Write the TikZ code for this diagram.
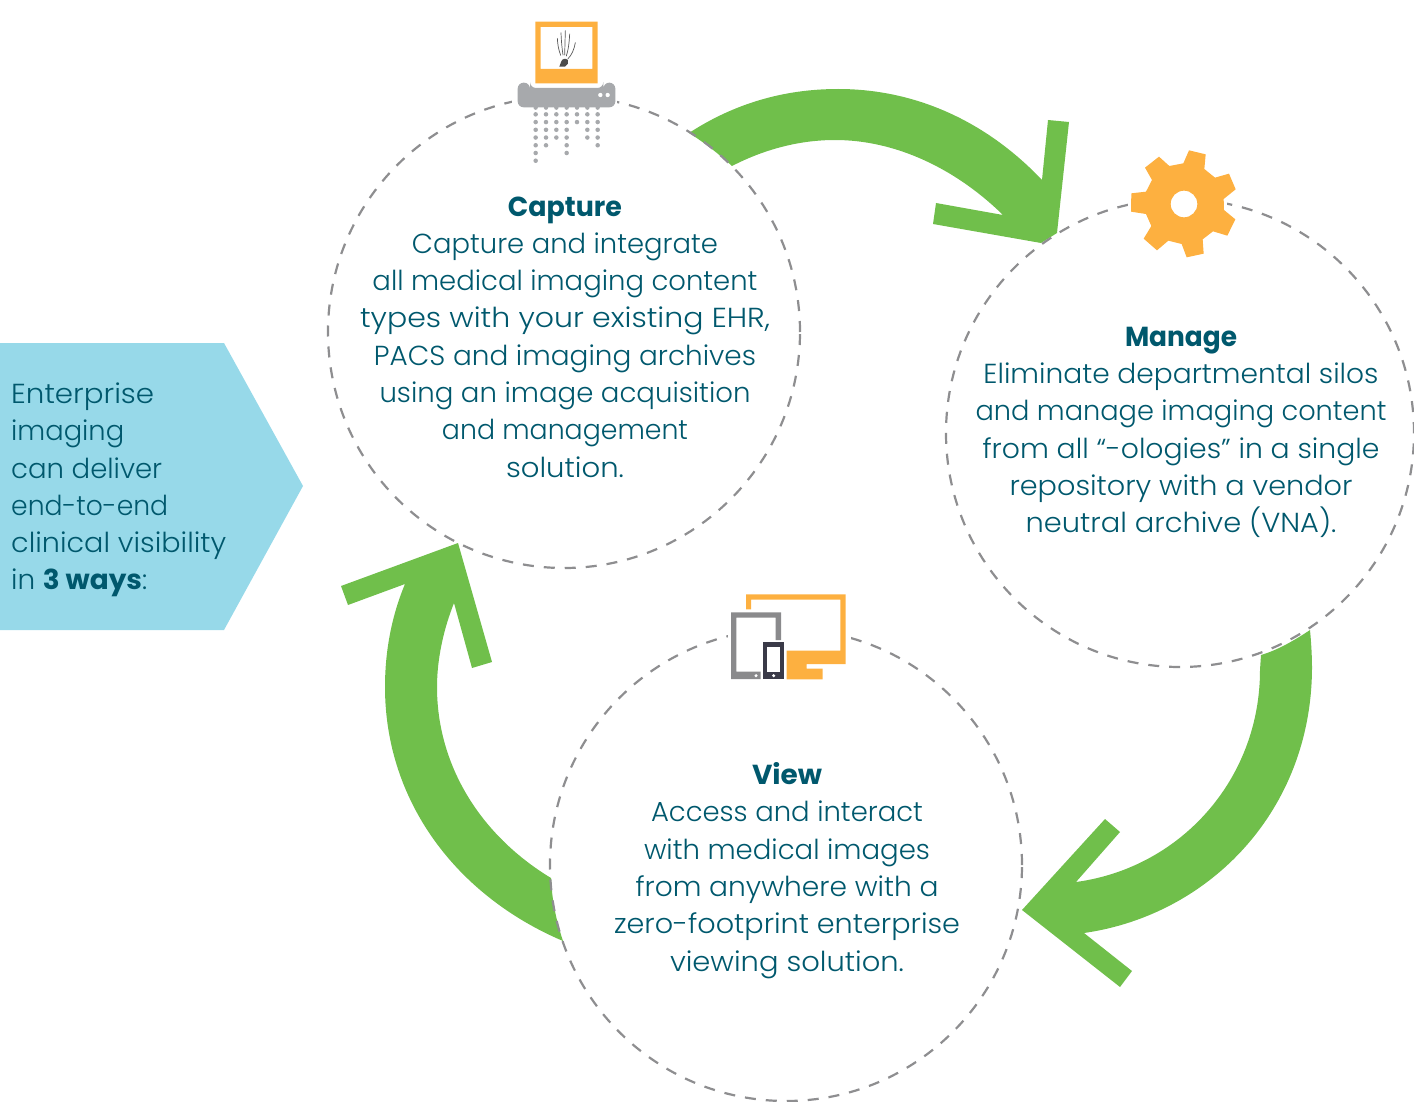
\documentclass[tikz,border=0pt]{standalone}
\usepackage{fontspec}
\usepackage{graphicx}
\setmainfont{Poppins}[UprightFont=* Light,BoldFont=* Bold]
\definecolor{tealtxt}{HTML}{00586D}
\definecolor{skyb}{HTML}{97D9E9}
\definecolor{leaf}{HTML}{70BF4B}
\definecolor{amber}{HTML}{FDB040}
\definecolor{shred}{HTML}{A7A9AC}
\definecolor{tabgray}{HTML}{8A8A8C}
\definecolor{phone}{HTML}{3A3A48}
\definecolor{dashgray}{HTML}{8E8E90}
\newcommand\fitline[2]{\resizebox{#1pt}{\height}{#2}}
\tikzset{
  ring/.style={circle,draw=dashgray,line width=2.2pt,dash pattern=on 11pt off 10pt,minimum size=#1,inner sep=0pt},
  blurb/.style={align=center,text=tealtxt,font=\fontsize{27.5}{37.3}\selectfont,inner sep=0pt},
  sweep/.style={fill=leaf,draw=none},
  bone/.style={draw=black!65,line width=0.7pt,line cap=round}
}
\begin{document}
\begin{tikzpicture}[x=1pt,y=-1pt]
\useasboundingbox (0,0) rectangle (1414,1102);
% banner
\fill[skyb] (0,343) -- (224,343) -- (303,486) -- (224,630) -- (0,630) -- cycle;
\node[blurb,align=left,anchor=west] (intro) at (11,490) {\fitline{143}{Enterprise}\\\fitline{113}{imaging}\\\fitline{151}{can deliver}\\\fitline{157}{end-to-end}\\\fitline{215}{clinical visibility}\\\fitline{136}{in \textbf{3 ways}:}};
% green arrows
\fill[sweep] (689,133) .. controls (735,103) and (785,89) .. (838,89) .. controls (920,89) and (990,125) .. (1042,180)
  -- (1048,120) -- (1069,122) -- (1057,233) -- (1041,243) -- (933,224) -- (936,203) -- (1003,215)
  .. controls (955,168) and (895,140) .. (835,140) .. controls (800,140) and (765,149) .. (732,166)
  .. controls (720,155) and (705,143) .. (689,133) -- cycle;
\fill[sweep] (1310,630) .. controls (1311,640) and (1312,655) .. (1312,667) .. controls (1312,810) and (1210,915) .. (1084,933)
  -- (1132,971) -- (1120,987) -- (1022,910) -- (1105,819) -- (1120,832) -- (1076,882)
  .. controls (1180,868) and (1260,780) .. (1260,670) -- (1261,655) .. controls (1278,650) and (1295,640) .. (1310,630) -- cycle;
\fill[sweep] (458,543) -- (492,662) -- (472,668) -- (454,603) .. controls (444,628) and (437,658) .. (437,687)
  .. controls (437,765) and (480,835) .. (551,878) .. controls (552,900) and (556,920) .. (563,941)
  .. controls (455,895) and (385,800) .. (385,687) .. controls (385,650) and (392,615) .. (405,584)
  -- (348,605) -- (341,586) -- cycle;
% rings
\node[ring=472pt] (capture) at (564,332) {};
\node[ring=468pt] (manage) at (1180,433) {};
\node[ring=472pt] (view) at (786,865) {};
% masks
\fill[white] (512,88) rectangle (617,112);
\fill[white] (1128,180) rectangle (1227,225);
\fill[white] (728,622) rectangle (851,660);
% texts
\node[blurb] (capturetxt) at (565,337) {\fitline{114}{\textbf{Capture}}\\\fitline{306}{Capture and integrate}\\\fitline{385}{all medical imaging content}\\\fitline{410}{types with your existing EHR,}\\\fitline{382}{PACS and imaging archives}\\\fitline{371}{using an image acquisition}\\\fitline{246}{and management}\\\fitline{118}{solution.}};
\node[blurb] (managetxt) at (1181,432.5) {\fitline{112}{\textbf{Manage}}\\\fitline{395}{Eliminate departmental silos}\\\fitline{411}{and manage imaging content}\\\fitline{397}{from all “-ologies” in a single}\\\fitline{343}{repository with a vendor}\\\fitline{311}{neutral archive (VNA).}};
\node[blurb] (viewtxt) at (787,870.5) {\fitline{70}{\textbf{View}}\\\fitline{272}{Access and interact}\\\fitline{286}{with medical images}\\\fitline{303}{from anywhere with a}\\\fitline{346}{zero-footprint enterprise}\\\fitline{234}{viewing solution.}};
% shredder icon
\begin{scope}[shift={(500,10)},scale=1/3]
\fill[amber,even odd rule] (106,35) rectangle (293,220) (122,51) rectangle (277,177);
\fill[shred,rounded corners=6pt] (53,218) -- (90,218) -- (90,234) -- (310,234) -- (310,218) -- (346,218) -- (346,292) -- (53,292) -- cycle;
\fill[white] (301,255) circle (6.5) (323,255) circle (6.5);
\foreach \cx/\n in {107/7,138/5,169/4,200/6,231/2,262/4,293/5}{
  \fill[shred] (\cx,293) circle (6.5);
  \foreach \i in {1,...,\n}{ \fill[shred] (\cx,{313+23.2*(\i-1)}) circle (6.8); }
}
\draw[bone] (172,85) .. controls (173,105) and (176,120) .. (182,136);
\draw[bone] (183,68) .. controls (184,95) and (186,115) .. (189,135);
\draw[bone] (196,62) -- (194,135);
\draw[bone] (209,72) .. controls (208,95) and (205,120) .. (199,138);
\draw[bone] (226,98) .. controls (222,120) and (215,135) .. (204,146);
\fill[black!70] (178,170) -- (184,154) .. controls (186,146) and (198,144) .. (204,150) .. controls (208,158) and (202,166) .. (195,170) -- cycle;
\end{scope}
% gear icon
\begin{scope}[shift={(1110,140)},scale=1/3]
\fill[amber,even odd rule] (237,31) -- (287,43) -- (283,87) -- (315,113) -- (357,101) -- (377,148) -- (341,177) -- (342,210) -- (376,238) -- (352,287) -- (309,274) -- (278,298) -- (281,341) -- (230,352) -- (215,312) -- (175,302) -- (141,331) -- (101,296) -- (124,258) -- (108,222) -- (63,215) -- (64,160) -- (108,155) -- (126,120) -- (105,83) -- (147,50) -- (178,78) -- (220,70) -- cycle (222,192) circle (40);
\end{scope}
% devices icon
\begin{scope}[shift={(710,580)},scale=1/3]
\fill[amber] (108,43) -- (407,43) -- (407,252) -- (290,252) -- (290,266) -- (338,266) -- (338,298) -- (230,298) -- (230,212) -- (391,212) -- (391,59) -- (123,59) -- (123,88) -- (108,88) -- cycle;
\fill[tabgray] (63,97) -- (213,97) -- (213,180) -- (197,180) -- (197,113) -- (79,113) -- (79,275) -- (152,275) -- (152,297) -- (63,297) -- cycle;
\fill[white] (138,287) circle (5);
\fill[phone] (160,187) rectangle (221,297);
\fill[white] (171,201) rectangle (211,275);
\fill[white] (191,287) circle (5);
\end{scope}
\end{tikzpicture}
\end{document}
